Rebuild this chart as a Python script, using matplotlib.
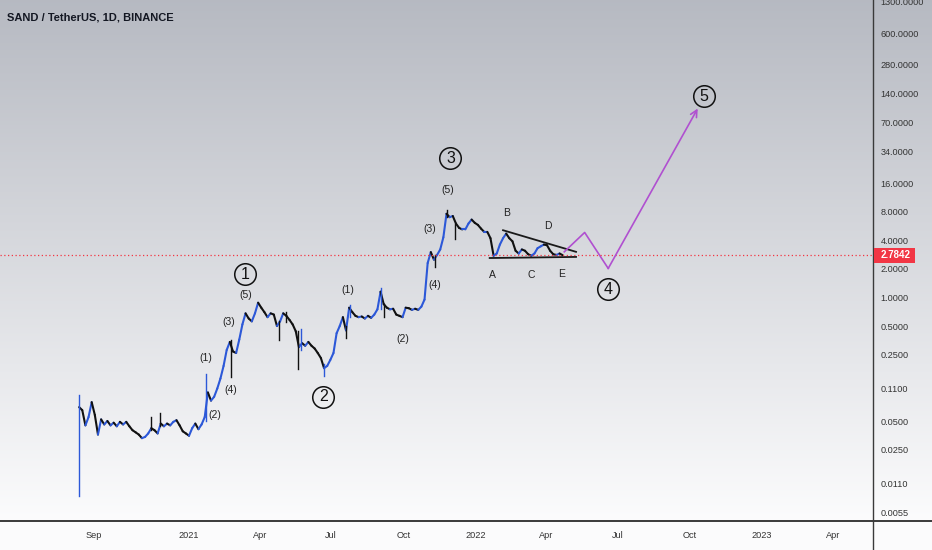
import matplotlib
matplotlib.use("Agg")
import matplotlib.pyplot as plt
import matplotlib.dates as mdates
import numpy as np
import pandas as pd
from matplotlib.collections import LineCollection
from matplotlib.lines import Line2D
from matplotlib.patches import Rectangle

plt.rcParams['font.family'] = ['Liberation Sans', 'DejaVu Sans']

# ---------------- data ----------------
start_date = "2020-08-14"
step_days = 4
close = [
    0.070, 0.065, 0.045, 0.055, 0.079, 0.058, 0.036, 0.052, 0.046, 0.050,
    0.045, 0.048, 0.044, 0.049, 0.046, 0.049, 0.044, 0.040, 0.038, 0.036,
    0.033, 0.034, 0.037, 0.042, 0.040, 0.037, 0.047, 0.044, 0.047, 0.045,
    0.049, 0.051, 0.045, 0.039, 0.037, 0.035, 0.042, 0.047, 0.041, 0.046,
    0.055, 0.100, 0.082, 0.090, 0.110, 0.140, 0.190, 0.280, 0.340, 0.270,
    0.260, 0.360, 0.520, 0.680, 0.600, 0.560, 0.680, 0.880, 0.780, 0.700,
    0.620, 0.680, 0.660, 0.500, 0.560, 0.680, 0.640, 0.580, 0.520, 0.440,
    0.300, 0.330, 0.310, 0.340, 0.310, 0.290, 0.260, 0.230, 0.180, 0.190,
    0.220, 0.260, 0.420, 0.500, 0.620, 0.450, 0.780, 0.700, 0.640, 0.620,
    0.630, 0.600, 0.640, 0.610, 0.660, 0.750, 1.150, 0.850, 0.780, 0.750,
    0.760, 0.660, 0.640, 0.620, 0.780, 0.770, 0.740, 0.760, 0.740, 0.800,
    0.950, 2.300, 3.000, 2.500, 2.800, 3.200, 4.300, 7.600, 7.000, 7.200,
    6.000, 5.400, 5.200, 5.200, 6.000, 6.600, 6.100, 5.800, 5.300, 4.900,
    4.900, 4.200, 2.750, 2.900, 3.600, 4.200, 4.700, 4.200, 3.900, 3.100,
    2.900, 3.200, 3.100, 2.850, 2.750, 2.900, 3.300, 3.450, 3.600, 3.550,
    3.100, 2.850, 2.800, 2.900, 2.7842,
]
wick_dates = ["2020-08-14", "2020-11-14", "2020-11-25", "2021-01-22", "2021-02-24",
              "2021-04-25", "2021-05-05", "2021-05-20", "2021-05-24", "2021-06-22",
              "2021-07-20", "2021-07-25", "2021-09-02", "2021-09-07", "2021-11-10",
              "2021-11-26", "2021-12-06"]
wick_low = [0.0081, 0.040, 0.044, 0.050, 0.146, 0.355, 0.55, 0.178, 0.28, 0.15,
            0.37, 0.62, 0.75, 0.62, 2.1, 7.0, 4.17]
wick_high = [0.0934, 0.055, 0.061, 0.158, 0.36, 0.56, 0.70, 0.44, 0.47, 0.20,
             0.50, 0.83, 1.25, 0.85, 2.8, 8.4, 6.0]
wick_up = [True, False, False, True, False, False, False, False, True, True,
           False, True, True, False, False, False, False]

last_price = 2.7842

tri_upper_dates = ["2022-02-05", "2022-05-09"]
tri_upper_prices = [5.1, 3.02]
tri_lower_dates = ["2022-01-19", "2022-05-09"]
tri_lower_prices = [2.6, 2.67]

proj_dates = ["2022-04-24", "2022-05-20", "2022-06-19", "2022-10-11"]
proj_prices = [3.02, 4.83, 2.02, 97.5]

wave_labels = ["1", "2", "3", "4", "5"]
wave_dates = ["2021-03-13", "2021-06-21", "2021-11-30", "2022-06-19", "2022-10-19"]
wave_prices = [1.75, 0.090, 29.2, 1.22, 132]

sub_labels = ["(1)", "(2)", "(3)", "(4)", "(5)", "(1)", "(2)", "(3)", "(4)", "(5)",
              "A", "B", "C", "D", "E"]
sub_dates = ["2021-01-22", "2021-02-03", "2021-02-21", "2021-02-23", "2021-03-14",
             "2021-07-22", "2021-09-30", "2021-11-04", "2021-11-10", "2021-11-27",
             "2022-01-23", "2022-02-10", "2022-03-13", "2022-04-03", "2022-04-21"]
sub_prices = [0.233, 0.0575, 0.552, 0.107, 1.07, 1.21, 0.369, 5.31, 1.344, 13.45,
              1.71, 7.76, 1.71, 5.62, 1.785]

ytick_vals = [1300, 600, 280, 140, 70, 34, 16, 8, 4, 2, 1, 0.5, 0.25, 0.11,
              0.05, 0.025, 0.011, 0.0055]
xtick_dates = ["2020-09-01", "2021-01-01", "2021-04-01", "2021-07-01", "2021-10-01",
               "2022-01-01", "2022-04-01", "2022-07-01", "2022-10-01", "2023-01-01",
               "2023-04-01"]
xtick_labels = ["Sep", "2021", "Apr", "Jul", "Oct", "2022", "Apr", "Jul", "Oct",
                "2023", "Apr"]

title = "SAND / TetherUS, 1D, BINANCE"

# ---------------- figure ----------------
W, H = 932, 550
fig = plt.figure(figsize=(W / 100, H / 100), dpi=100)

# background gradient
bg = fig.add_axes([0, 0, 1, 1], zorder=0)
t = np.clip(np.linspace(0, 1, H) / (521 / 550), 0, 1)[:, None, None]
top = np.array([0.715, 0.728, 0.760])
bot = np.array([0.988, 0.988, 0.992])
grad = top + (bot - top) * t
grad = np.repeat(grad, 2, axis=1)
bg.imshow(grad, extent=[0, 1, 0, 1], aspect='auto', origin='upper')
bg.axis('off')

ax = fig.add_axes([0, 29 / 550, 873 / 932, 521 / 550], zorder=1)
ax.patch.set_visible(False)
ax.set_yscale('log')

blue = '#2c58d8'
dark = '#111111'

dates = pd.date_range(start_date, periods=len(close), freq=f"{step_days}D")
xd = mdates.date2num(dates)
yc = np.array(close)
segs = []
cols = []
for i in range(1, len(yc)):
    segs.append([(xd[i - 1], yc[i - 1]), (xd[i], yc[i])])
    cols.append(blue if yc[i] >= yc[i - 1] else dark)
lc = LineCollection(segs, colors=cols, linewidths=1.5, capstyle='round')
ax.add_collection(lc)

wd = mdates.date2num(pd.to_datetime(wick_dates))
for x, lo, hi, up in zip(wd, wick_low, wick_high, wick_up):
    ax.plot([x, x], [lo, hi], color=blue if up else dark, lw=1.0)

# triangle lines
ax.plot(mdates.date2num(pd.to_datetime(tri_upper_dates)), tri_upper_prices,
        color='#1a1a1a', lw=1.3)
ax.plot(mdates.date2num(pd.to_datetime(tri_lower_dates)), tri_lower_prices,
        color='#1a1a1a', lw=1.3)

# projection
purple = '#b050d0'
px = mdates.date2num(pd.to_datetime(proj_dates))
ax.plot(px[:3], proj_prices[:3], color=purple, lw=1.2)
ax.annotate('', xy=(px[3], proj_prices[3]), xytext=(px[2], proj_prices[2]),
            arrowprops=dict(arrowstyle='->', color=purple, lw=1.2,
                            shrinkA=0, shrinkB=0, mutation_scale=12))

# red price line
ax.axhline(last_price, color='#f23645', lw=0.9, linestyle=(0, (1, 2)))

# wave labels
wdx = mdates.date2num(pd.to_datetime(wave_dates))
for lab, x, y in zip(wave_labels, wdx, wave_prices):
    ax.plot([x], [y], marker='o', ms=15.5, mfc='none', mec='#111111', mew=1.1)
    ax.text(x, y, lab, ha='center', va='center', fontsize=11.5, color='#111111')

sdx = mdates.date2num(pd.to_datetime(sub_dates))
for lab, x, y in zip(sub_labels, sdx, sub_prices):
    ax.text(x, y, lab, ha='center', va='center', fontsize=7.5, color='#222222')

# axes limits
d0 = mdates.date2num(pd.Timestamp("2021-01-01"))
ax.set_xlim(d0 - 240.8, d0 + 871.3)
ax.set_ylim(0.00443, 1353)

ax.set_yticks(ytick_vals)
ax.set_yticklabels([f"{v:.4f}" for v in ytick_vals])
ax.yaxis.set_minor_locator(matplotlib.ticker.NullLocator())
ax.yaxis.tick_right()
ax.tick_params(axis='y', length=0, pad=5.5, labelsize=6.6, labelcolor='#333333')

ax.set_xticks(mdates.date2num(pd.to_datetime(xtick_dates)))
ax.set_xticklabels(xtick_labels)
ax.xaxis.set_minor_locator(matplotlib.ticker.NullLocator())
ax.tick_params(axis='x', length=0, pad=7, labelsize=6.6, labelcolor='#333333')

for s in ax.spines.values():
    s.set_visible(False)

# axis frame lines
fig.add_artist(Line2D([873 / 932, 873 / 932], [0, 1], transform=fig.transFigure,
                      color='#3a3a3a', lw=1.0))
fig.add_artist(Line2D([0, 1], [29 / 550, 29 / 550], transform=fig.transFigure,
                      color='#3a3a3a', lw=1.4))

# price label box
fig.canvas.draw()
yd = ax.transData.transform((d0, last_price))[1]
fig.add_artist(Rectangle((873.5 / 932, (yd - 7.5) / 550), 41 / 932, 15 / 550,
                         transform=fig.transFigure, facecolor='#f23645',
                         edgecolor='none', zorder=5))
fig.text(896 / 932, yd / 550, f"{last_price:.4f}", ha='center', va='center',
         fontsize=7, fontweight='bold', color='white', zorder=6)

fig.text(7 / 932, 1 - 17.5 / 550, title, ha='left', va='center', fontsize=8,
         fontweight='bold', color='#131722')

fig.savefig("out.png", dpi=100)
